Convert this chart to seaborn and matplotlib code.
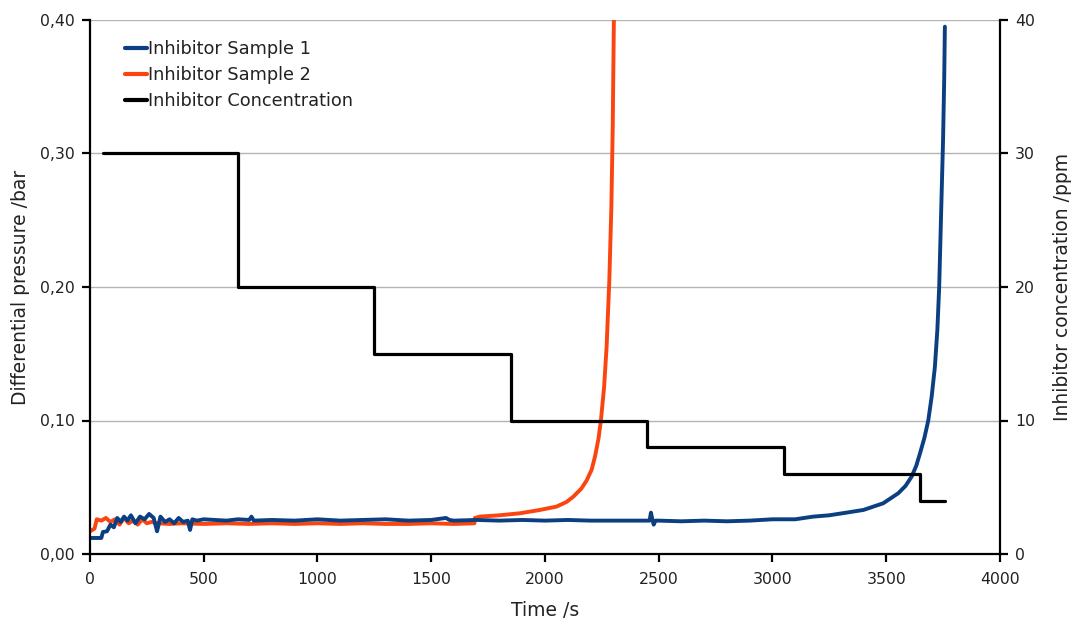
import numpy as np
import pandas as pd
import matplotlib
matplotlib.use("Agg")
import matplotlib.pyplot as plt
import seaborn as sns
from matplotlib.lines import Line2D
from matplotlib.ticker import FuncFormatter, MultipleLocator

# Inhibitor Sample 1 (blue), time /s and differential pressure /bar
s1_time = [0, 50, 57, 75, 90, 105, 120, 135, 150, 165, 180, 200, 220, 240, 260,
           280, 295, 310, 330, 350, 370, 390, 410, 430, 440, 450, 470, 500, 550,
           600, 650, 700, 710, 720, 800, 900, 1000, 1100, 1200, 1300, 1400, 1500,
           1565, 1580, 1600, 1700, 1800, 1900, 2000, 2100, 2200, 2300, 2400, 2460,
           2466, 2472, 2478, 2486, 2500, 2600, 2700, 2800, 2900, 3000, 3100, 3179,
           3250, 3326, 3400, 3487, 3553, 3585, 3612, 3632, 3648, 3668, 3685,
           3700, 3714, 3725, 3733, 3743, 3750, 3755, 3758]
s1_dp = [0.012, 0.012, 0.0165, 0.017, 0.022, 0.020, 0.027, 0.024, 0.028, 0.025,
         0.029, 0.023, 0.028, 0.026, 0.030, 0.027, 0.017, 0.028, 0.024, 0.026,
         0.023, 0.027, 0.024, 0.025, 0.018, 0.026, 0.025, 0.026, 0.0255, 0.025,
         0.026, 0.0255, 0.028, 0.025, 0.0255, 0.025, 0.026, 0.025, 0.0255, 0.026,
         0.025, 0.0255, 0.027, 0.0255, 0.025, 0.0255, 0.025, 0.0255, 0.025,
         0.0255, 0.025, 0.025, 0.025, 0.025, 0.031, 0.026, 0.022, 0.025, 0.025,
         0.0245, 0.025, 0.0245, 0.025, 0.026, 0.026, 0.028, 0.029, 0.031, 0.033,
         0.038, 0.0455, 0.051, 0.058, 0.066, 0.075, 0.087, 0.100, 0.118, 0.140,
         0.168, 0.200, 0.265, 0.310, 0.355, 0.395]

# Inhibitor Sample 2 (orange)
s2_time = [0, 20, 30, 50, 70, 90, 110, 130, 150, 170, 190, 210, 230, 250, 270,
           300, 350, 400, 500, 600, 700, 800, 900, 1000, 1100, 1200, 1300, 1400,
           1500, 1600, 1690, 1692, 1714, 1800, 1890, 1978, 2051, 2095, 2125,
           2160, 2183, 2205, 2220, 2235, 2246, 2260, 2271, 2283, 2292, 2298, 2303]
s2_dp = [0.017, 0.019, 0.026, 0.025, 0.027, 0.024, 0.026, 0.022, 0.027, 0.023,
         0.025, 0.022, 0.026, 0.023, 0.024, 0.023, 0.0225, 0.023, 0.0225, 0.023,
         0.0225, 0.023, 0.0225, 0.023, 0.0225, 0.023, 0.0225, 0.0225, 0.023,
         0.0225, 0.023, 0.027, 0.028, 0.029, 0.0305, 0.033, 0.0355, 0.039, 0.043,
         0.049, 0.055, 0.063, 0.073, 0.086, 0.100, 0.125, 0.155, 0.205, 0.260,
         0.320, 0.400]

# Inhibitor concentration steps (ppm)
conc_time = [57, 650, 1250, 1850, 2450, 3050, 3650, 3758]
conc_ppm = [30, 20, 15, 10, 8, 6, 4, 4]

blue = "#0b3f81"
orange = "#fb4510"
text_col = "#222222"

sns.set_theme(style="white")
plt.rcParams['font.family'] = ['DejaVu Sans']

fig = plt.figure(figsize=(10.76, 6.25), dpi=100)
ax = fig.add_axes([0.0836, 0.1136, 0.8457, 0.8544])

df1 = pd.DataFrame({"t": s1_time, "p": s1_dp})
df2 = pd.DataFrame({"t": s2_time, "p": s2_dp})
sns.lineplot(data=df2, x="t", y="p", ax=ax, color=orange, lw=2.8, sort=False)
sns.lineplot(data=df1, x="t", y="p", ax=ax, color=blue, lw=2.8, sort=False)

ax2 = ax.twinx()
dfc = pd.DataFrame({"t": conc_time, "c": conc_ppm})
sns.lineplot(data=dfc, x="t", y="c", ax=ax2, color="black", lw=2.3,
             drawstyle="steps-post", sort=False)

ax.set_xlim(0, 4000)
ax.set_ylim(0, 0.40)
ax2.set_ylim(0, 40)
ax.xaxis.set_major_locator(MultipleLocator(500))
ax.yaxis.set_major_locator(MultipleLocator(0.10))
ax2.yaxis.set_major_locator(MultipleLocator(10))
ax.yaxis.set_major_formatter(FuncFormatter(lambda v, _: f"{v:.2f}".replace(".", ",")))

ax.grid(axis="y", color="#b4b4b4", lw=1.0)
ax.set_axisbelow(True)

for a in (ax, ax2):
    a.spines["top"].set_visible(False)
    for s in ("left", "right", "bottom"):
        a.spines[s].set_color("black")
        a.spines[s].set_linewidth(1.6)
ax.spines["right"].set_visible(False)
ax2.spines["left"].set_visible(False)
ax2.spines["bottom"].set_visible(False)

ax.tick_params(axis="both", which="major", direction="out", length=6, width=1.6,
               colors="black", labelsize=11.3, left=True, bottom=True, pad=5)
ax.tick_params(axis="x", pad=7)
ax2.tick_params(axis="y", direction="out", length=6, width=1.6, colors="black",
                labelsize=11.3, right=True, pad=5)
for lab in ax.get_xticklabels() + ax.get_yticklabels() + ax2.get_yticklabels():
    lab.set_color(text_col)

ax.set_xlabel("Time /s", fontsize=13.5, labelpad=10, color=text_col)
ax.set_ylabel("Differential pressure /bar", fontsize=13.5, labelpad=7, color=text_col)
ax2.set_ylabel("Inhibitor concentration /ppm", fontsize=13.5, labelpad=13, color=text_col)

handles = [Line2D([], [], color=blue, lw=3),
           Line2D([], [], color=orange, lw=3),
           Line2D([], [], color="black", lw=3)]
labels = ["Inhibitor Sample 1", "Inhibitor Sample 2", "Inhibitor Concentration"]
leg = ax2.legend(handles, labels, loc="upper left", bbox_to_anchor=(0.031, 0.975),
                 frameon=False, fontsize=12.8, handlelength=1.2, handletextpad=0.1,
                 labelspacing=0.45, borderaxespad=0)
for t in leg.get_texts():
    t.set_color(text_col)

fig.savefig("out.png", dpi=100)
